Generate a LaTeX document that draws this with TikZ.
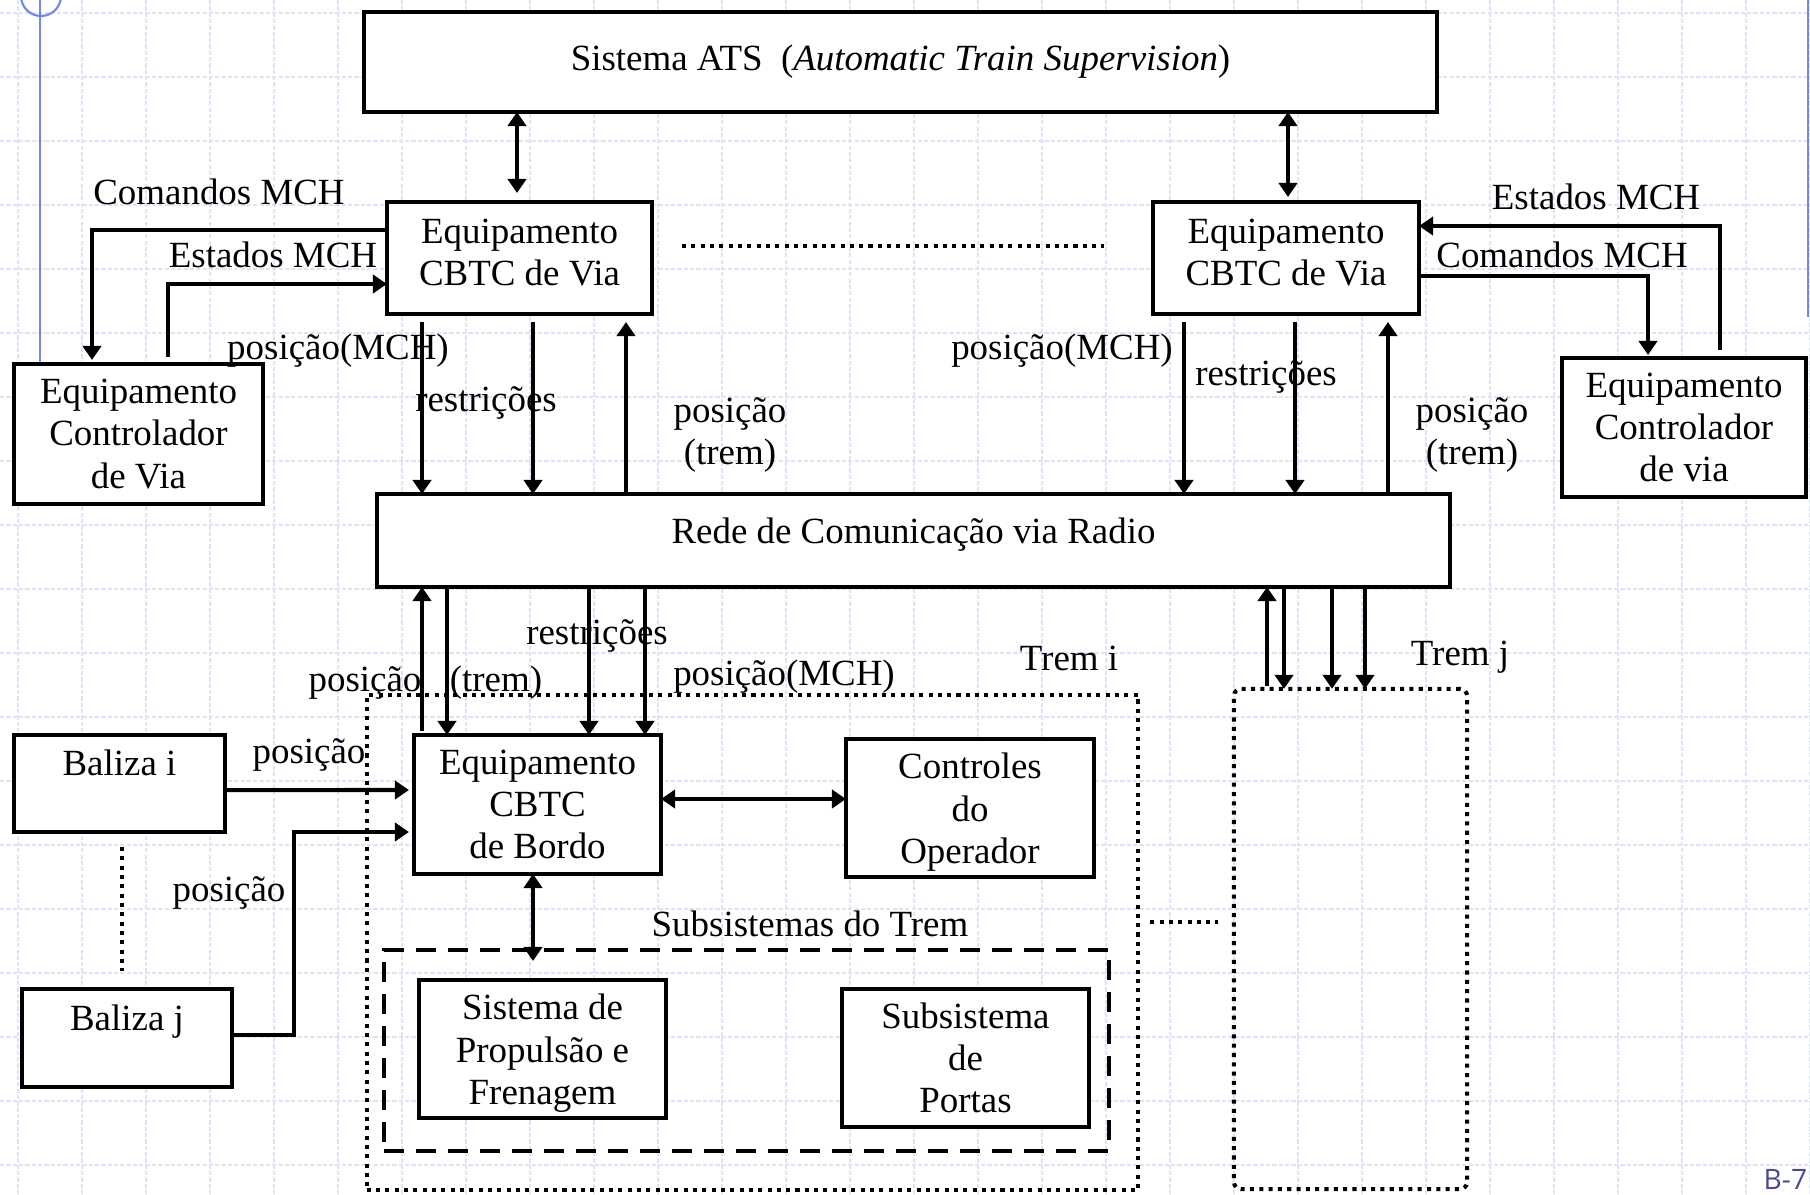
\documentclass[tikz,border=0pt]{standalone}
\usepackage{fontspec}
\setmainfont{Liberation Serif}
\newfontfamily\pagefont{Open Sans}
\usepackage{tikz}
\usetikzlibrary{arrows.meta}

\definecolor{gridblue}{RGB}{221, 227, 248}
\definecolor{slideblue}{RGB}{112, 136, 236}
\definecolor{pagenum}{RGB}{72, 74, 150}

\newcommand{\upstrut}[1]{\rule{0pt}{#1}}
\newcommand{\dnstrut}[1]{\rule[-#1]{0pt}{#1}}

\tikzset{
  blk/.style={draw, line width=1.15pt, fill=white, align=center, outer sep=0pt, inner sep=0pt},
  lbl/.style={inner sep=0pt, align=center},
  arr/.style={-{Triangle[length=4pt, width=5.2pt]}, line width=1.15pt},
  dblarr/.style={{Triangle[length=4pt, width=5.2pt]}-{Triangle[length=4pt, width=5.2pt]}, line width=1.15pt},
  dotline/.style={line width=1.15pt, dash pattern=on 1.15pt off 1.5pt},
  dotbox/.style={draw, dotline, outer sep=0pt, inner sep=0pt},
  dashbox/.style={draw, line width=1.15pt, dash pattern=on 5.7pt off 3.4pt, outer sep=0pt, inner sep=0pt},
  gridline/.style={gridblue, line width=0.4pt, dash pattern=on 1.2pt off 0.6pt}
}

\begin{document}
\begin{tikzpicture}[x=0.01cm, y=-0.01cm, font=\fontsize{10.5}{12}\selectfont]
  \useasboundingbox (0,0) rectangle (1810,1194);

  % Slide background
  \foreach \gx in {18,82,...,1810} \draw[gridline] (\gx,0) -- (\gx,1194);
  \foreach \gy in {13,77,...,1194} \draw[gridline] (0,\gy) -- (1810,\gy);
  \draw[slideblue, line width=0.6pt] (40,0) -- (40,362);
  \draw[slideblue, line width=0.6pt] (41,-4) circle (0.2cm);
  \draw[slideblue, line width=0.6pt] (1808,0) -- (1808,317);
  \node[anchor=south west, inner sep=0pt, text=pagenum, font=\pagefont\fontsize{8}{9}\selectfont] (pgno) at (1763,1190) {B-7};

  % ATS
  \node[blk, minimum width=10.73cm, minimum height=1.00cm] (ats) at (900.5,62) {Sistema ATS\ \ (\textit{Automatic Train Supervision})};

  % Equipamentos CBTC de via
  \node[blk, minimum width=2.65cm, minimum height=1.12cm] (viaL) at (519.5,258) {Equipamento\\CBTC de Via\dnstrut{0.12cm}};
  \node[blk, minimum width=2.66cm, minimum height=1.12cm] (viaR) at (1286,258) {Equipamento\\CBTC de Via\dnstrut{0.12cm}};

  % Controladores de via
  \node[blk, minimum width=2.49cm, minimum height=1.40cm] (ctlL) at (138.5,434) {Equipamento\\Controlador\\de Via};
  \node[blk, minimum width=2.44cm, minimum height=1.39cm] (ctlR) at (1684,427.5) {Equipamento\\Controlador\\de via};

  % Rede
  \node[blk, minimum width=10.73cm, minimum height=0.93cm] (rede) at (913.5,540.5) {Rede de Comunicação via Radio\dnstrut{0.2cm}};

  % Trens
  \node[dotbox, minimum width=7.71cm, minimum height=4.95cm] (tremi) at (752.5,942.5) {};
  \node[dotbox, rounded corners=2pt, minimum width=2.33cm, minimum height=5.00cm] (tremj) at (1350.5,939) {};
  \node[lbl] (tremiL) at (1069,658) {Trem i};
  \node[lbl] (tremjL) at (1460,657) {Trem j};

  % Balizas
  \node[blk, anchor=north, minimum width=2.11cm, text height=0.40cm, text depth=0.57cm] (balI) at (119.5,735) {Baliza i};
  \node[blk, anchor=north, minimum width=2.10cm, text height=0.41cm, text depth=0.57cm] (balJ) at (127,989) {Baliza j};

  % Bordo
  \node[blk, minimum width=2.47cm, minimum height=1.39cm] (bordo) at (537.5,804.5) {Equipamento\\CBTC\\de Bordo};
  \node[blk, minimum width=2.48cm, minimum height=1.38cm] (oper) at (970,808) {\upstrut{0.34cm}Controles\\do\\Operador};

  % Subsistemas
  \node[dashbox, minimum width=7.25cm, minimum height=2.01cm] (subs) at (746.5,1050.5) {};
  \node[lbl] (subsL) at (810,924) {Subsistemas do Trem};
  \node[blk, minimum width=2.47cm, minimum height=1.38cm] (prop) at (542.5,1049) {\upstrut{0.34cm}Sistema de\\Propulsão e\\Frenagem};
  \node[blk, minimum width=2.47cm, minimum height=1.38cm] (portas) at (965.5,1058) {Subsistema\\de\\Portas};

  % Labels
  \node[lbl] (cmdL) at (219,192) {Comandos MCH};
  \node[lbl] (estL) at (273,255) {Estados MCH};
  \node[lbl] (posmchL) at (338,351) {posição(MCH)};
  \node[lbl] (resL) at (486,403) {restrições};
  \node[lbl] (postremL) at (730,435) {posição\\(trem)};
  \node[lbl] (posmchR) at (1062,351) {posição(MCH)};
  \node[lbl] (resR) at (1266,377) {restrições};
  \node[lbl] (postremR) at (1472,435) {posição\\(trem)};
  \node[lbl] (estR) at (1596,197) {Estados MCH};
  \node[lbl] (cmdR) at (1562,255) {Comandos MCH};
  \node[lbl] (resB) at (597,636) {restrições};
  \node[lbl] (posB) at (365,683) {posição};
  \node[lbl] (tremB) at (496,683) {(trem)};
  \node[lbl] (posmchB) at (784,677) {posição(MCH)};
  \node[lbl] (posBi) at (309,755) {posição};
  \node[lbl] (posBj) at (229,893) {posição};

  % ATS links
  \draw[dblarr] ([shift={(-383.5,0)}]ats.south) -- ([shift={(-2.5,-9)}]viaL.north);
  \draw[dblarr] ([shift={(387.5,0)}]ats.south) -- ([shift={(2,-5)}]viaR.north);

  % Via <-> rede
  \draw[arr] ([shift={(-97.5,8)}]viaL.south) -- ([shift={(-491.5,0)}]rede.north);
  \draw[arr] ([shift={(13.5,8)}]viaL.south) -- ([shift={(-380.5,0)}]rede.north);
  \draw[arr] ([shift={(-287.5,0)}]rede.north) -- ([shift={(106.5,8)}]viaL.south);
  \draw[arr] ([shift={(-102,8)}]viaR.south) -- ([shift={(270.5,0)}]rede.north);
  \draw[arr] ([shift={(9,8)}]viaR.south) -- ([shift={(381.5,0)}]rede.north);
  \draw[arr] ([shift={(474.5,0)}]rede.north) -- ([shift={(102,8)}]viaR.south);
  \draw[dotline] ([shift={(30,-12)}]viaL.east) -- ([shift={(-49,-12)}]viaR.west);

  % MCH loops
  \draw[arr] ([shift={(0,-28)}]viaL.west) -| ([shift={(-46.5,-4)}]ctlL.north);
  \draw[arr] ([shift={(29.5,-7)}]ctlL.north) |- ([shift={(0,26)}]viaL.west);
  \draw[arr] ([shift={(0,18)}]viaR.east) -| ([shift={(-36,-3)}]ctlR.north);
  \draw[arr] ([shift={(36,-8)}]ctlR.north) |- ([shift={(0,-32)}]viaR.east);

  % Rede <-> trem i
  \draw[arr] ([shift={(-115.5,-4)}]bordo.north) -- ([shift={(-491.5,0)}]rede.south);
  \draw[arr] ([shift={(-466.5,0)}]rede.south) -- ([shift={(-90.5,0)}]bordo.north);
  \draw[arr] ([shift={(-324.5,0)}]rede.south) -- ([shift={(51.5,0)}]bordo.north);
  \draw[arr] ([shift={(-268.5,0)}]rede.south) -- ([shift={(107.5,0)}]bordo.north);

  % Rede <-> trem j
  \draw[arr] ([shift={(-83.5,-3)}]tremj.north) -- ([shift={(353.5,0)}]rede.south);
  \draw[arr] ([shift={(370.5,0)}]rede.south) -- ([shift={(-66.5,0)}]tremj.north);
  \draw[arr] ([shift={(418.5,0)}]rede.south) -- ([shift={(-18.5,0)}]tremj.north);
  \draw[arr] ([shift={(451.5,0)}]rede.south) -- ([shift={(14.5,0)}]tremj.north);

  % Balizas
  \draw[arr] ([shift={(0,6.5)}]balI.east) -- ([shift={(-5,-14.5)}]bordo.west);
  \draw[arr] ([shift={(0,-3)}]balJ.east) -- ++(62,0) |- ([shift={(-5,27.5)}]bordo.west);
  \draw[dotline] ([shift={(2.5,15)}]balI.south) -- ([shift={(-5,-18)}]balJ.north);

  % Bordo links
  \draw[dblarr] ([shift={(0,-5.5)}]bordo.east) -- ([shift={(0,-9)}]oper.west);
  \draw[dblarr] ([shift={(-4.5,0)}]bordo.south) -- ([shift={(-213.5,11)}]subs.north);
  \draw[dotline] ([shift={(12,-20.5)}]tremi.east) -- ([shift={(-16,-17)}]tremj.west);
\end{tikzpicture}
\end{document}
